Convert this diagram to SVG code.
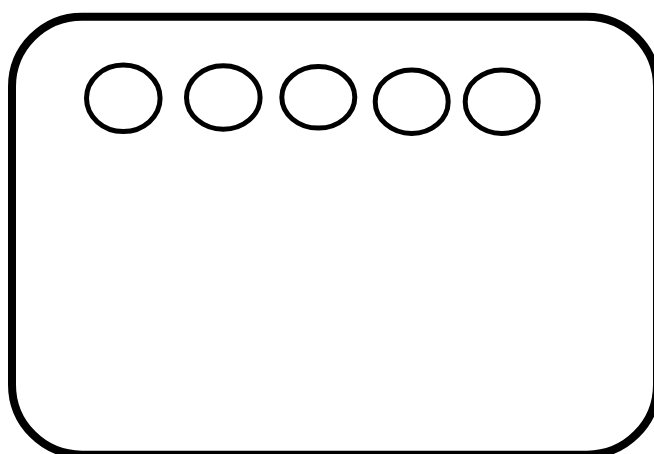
<svg xmlns="http://www.w3.org/2000/svg" width="654" height="454" viewBox="0 0 654 454">
<style>
.frame{fill:#fff;stroke:#000;stroke-width:8}
.hole{fill:#fff;stroke:#000;stroke-width:5}
</style>
<rect width="654" height="454" fill="#fff"/>
<g id="panel">
<rect class="frame" x="12" y="16.7" width="645" height="438" rx="70" ry="70"/>
</g>
<g id="circle1"><ellipse class="hole" cx="123.3" cy="98.3" rx="36.8" ry="33.2"/></g>
<g id="circle2"><ellipse class="hole" cx="223.3" cy="97.5" rx="36.8" ry="31.7"/></g>
<g id="circle3"><ellipse class="hole" cx="318.3" cy="97.3" rx="36.5" ry="30.8"/></g>
<g id="circle4"><ellipse class="hole" cx="411.7" cy="101.7" rx="36.5" ry="31.8"/></g>
<g id="circle5"><ellipse class="hole" cx="501.7" cy="101.7" rx="36.5" ry="31.8"/></g>
<g id="connectors"/>
</svg>
